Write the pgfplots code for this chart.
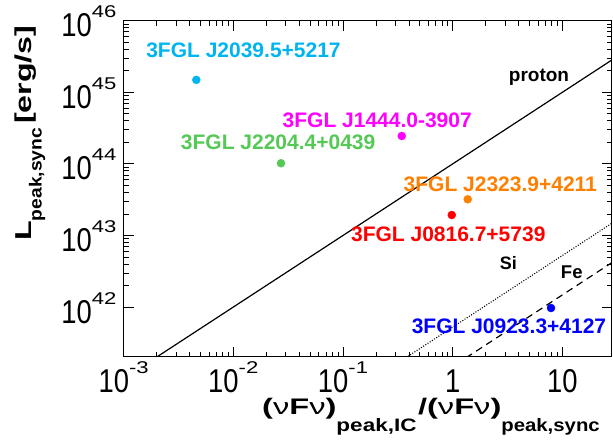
\documentclass[border=0pt]{standalone}
\usepackage{fontspec}
\setmainfont{Liberation Sans}
\usepackage{graphicx}
\usepackage{pgfplots}
\pgfplotsset{compat=1.18}
\definecolor{ccyan}{RGB}{0,180,240}
\definecolor{cgreen}{RGB}{85,200,85}
\definecolor{cmag}{RGB}{255,0,255}
\definecolor{corange}{RGB}{255,128,0}
\definecolor{cred}{RGB}{255,0,0}
\definecolor{cblue}{RGB}{0,0,255}
\newcommand{\tl}[1]{\mbox{\scalebox{0.83}[1]{\fontsize{33}{33}\selectfont #1}}}
\newcommand{\tp}[1]{\mbox{\scalebox{0.83}[1]{\fontsize{33}{33}\selectfont 10}\raisebox{19pt}{\scalebox{1.3}[1]{\fontsize{17}{17}\selectfont #1}}}}
\newcommand{\lab}{\fontsize{21}{21}\selectfont\bfseries}
\newcommand{\mainA}[1]{\scalebox{1.45}[1]{\fontsize{22.5}{22.5}\selectfont\bfseries #1}}
\newcommand{\subA}[2]{\raisebox{-17pt}{\scalebox{#1}[1]{\fontsize{18}{18}\selectfont\bfseries #2}}}
\begin{document}
\begin{tikzpicture}
\begin{axis}[
  at={(0,0)}, anchor=south west,
  scale only axis, width=488.4pt, height=336.3pt,
  xmode=log, ymode=log,
  xmin=1e-3, xmax=28.3, ymin=2.01e41, ymax=1e46,
  xtick={1e-3,1e-2,1e-1,1,10},
  xticklabels={\tp{-3},\tp{-2},\tp{-1},\tl{1},\tl{10}},
  ytick={1e42,1e43,1e44,1e45,1e46},
  yticklabels={\tp{42},\tp{43},\tp{44},\tp{45},\tp{46}},
  tick align=inside,
  xtick pos=both, ytick pos=both,
  major tick length=10pt, minor tick length=5pt,
  every tick/.style={black, line width=0.8pt},
  axis line style={line width=1pt},
  tick label style={inner sep=0pt},
  xticklabel style={anchor=base, yshift=-35.3pt},
  yticklabel style={anchor=base east, xshift=-7pt, yshift=-16pt},
  xlabel={\mainA{(\textmd{ν}F\textmd{ν})}\subA{1.25}{peak,IC}\hspace{1.5pt}\mainA{/(\textmd{ν}F\textmd{ν})}\subA{1.13}{peak,sync}},
  xlabel style={at={(axis description cs:0.2834,-0.1704)}, anchor=base west, inner sep=0pt},
  ylabel={\scalebox{1.4}[1]{\fontsize{23}{23}\selectfont\bfseries L}\raisebox{-10pt}{\scalebox{1.1}[1]{\fontsize{17.5}{17.5}\selectfont\bfseries peak,sync}}\hspace{4pt}\scalebox{1.4}[1]{\fontsize{23}{23}\selectfont\bfseries [erg/s]}},
  ylabel style={at={(axis description cs:-0.1882,0.345)}, anchor=base west, inner sep=0pt},
]
% lines
\addplot[black, line width=1.2pt] coordinates {(1e-4,1e40) (100,1e46)};
\addplot[black, line width=1.1pt, dash pattern=on 1pt off 1.6pt] coordinates {(1e-4,5.25e37) (100,5.25e43)};
\addplot[black, line width=1.2pt, dash pattern=on 7pt off 5pt] coordinates {(1e-4,1.48e37) (100,1.48e43)};
% points
\addplot[only marks, mark=*, mark size=4pt, ccyan, mark options={draw=ccyan, fill=ccyan}] coordinates {(4.6e-3,1.49e45)};
\addplot[only marks, mark=*, mark size=4pt, cgreen, mark options={draw=cgreen, fill=cgreen}] coordinates {(0.0272,1.02e44)};
\addplot[only marks, mark=*, mark size=4pt, cmag, mark options={draw=cmag, fill=cmag}] coordinates {(0.343,2.45e44)};
\addplot[only marks, mark=*, mark size=4pt, corange, mark options={draw=corange, fill=corange}] coordinates {(1.37,3.2e43)};
\addplot[only marks, mark=*, mark size=4pt, cred, mark options={draw=cred, fill=cred}] coordinates {(0.98,1.93e43)};
\addplot[only marks, mark=*, mark size=4pt, cblue, mark options={draw=cblue, fill=cblue}] coordinates {(7.87,0.97e42)};
% labels
\node[anchor=base, text=ccyan, inner sep=0pt, font=\lab] at (rel axis cs:0.2455,0.8912) {3FGL J2039.5+5217};
\node[anchor=base, text=cmag, inner sep=0pt, font=\lab] at (rel axis cs:0.5193,0.6830) {3FGL J1444.0-3907};
\node[anchor=base, text=cgreen, inner sep=0pt, font=\lab] at (rel axis cs:0.3165,0.6155) {3FGL J2204.4+0439};
\node[anchor=base, text=corange, inner sep=0pt, font=\lab] at (rel axis cs:0.7713,0.4915) {3FGL J2323.9+4211};
\node[anchor=base, text=cred, inner sep=0pt, font=\lab] at (rel axis cs:0.6648,0.3428) {3FGL J0816.7+5739};
\node[anchor=base, text=cblue, inner sep=0pt, font=\lab] at (rel axis cs:0.7891,0.0705) {3FGL J0923.3+4127};
\node[anchor=base, inner sep=0pt, font=\fontsize{19}{19}\selectfont\bfseries] at (rel axis cs:0.8505,0.8186) {proton};
\node[anchor=base, inner sep=0pt, font=\fontsize{18}{18}\selectfont\bfseries] at (rel axis cs:0.7877,0.2608) {Si};
\node[anchor=base, inner sep=0pt, font=\fontsize{18.5}{18.5}\selectfont\bfseries] at (rel axis cs:0.9176,0.2320) {Fe};
\end{axis}
\pgfresetboundingbox
\path[use as bounding box] (-123.6pt,-86pt) rectangle (489.4pt,357pt);
\end{tikzpicture}
\end{document}
